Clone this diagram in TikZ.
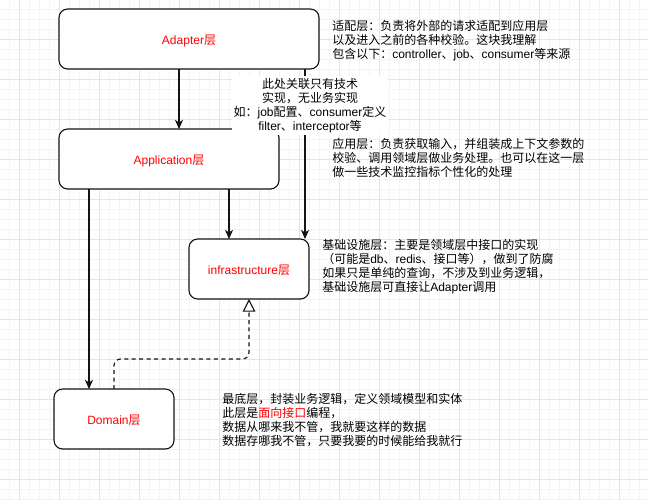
\documentclass[tikz,border=0pt]{standalone}
\usepackage{fontspec}
\setmainfont{Noto Sans CJK SC}
\newfontfamily\lat{Liberation Sans}
\usetikzlibrary{arrows.meta,calc}

\definecolor{gridminor}{RGB}{244,244,244}
\definecolor{gridmajor}{RGB}{229,229,229}
\definecolor{edgeink}{RGB}{20,20,20}
\definecolor{labelred}{RGB}{255,0,0}

\tikzset{
  layer/.style={draw=edgeink, line width=0.85pt, rounded corners=6.5pt, fill=white,
    minimum height=45pt, inner sep=0pt, outer sep=0pt,
    text height=8pt, text depth=0pt,
    text=labelred, font=\fontsize{9}{10.5}\selectfont},
  note/.style={align=left, anchor=north west, inner sep=0pt,
    font=\fontsize{9}{10.5}\selectfont},
  link/.style={draw=edgeink, line width=0.85pt, -{Stealth[length=6.8pt,width=6pt,inset=1.8pt]}},
  realize/.style={draw=edgeink, line width=0.85pt, dash pattern=on 3pt off 2.6pt,
    rounded corners=5pt, -{Triangle[open,length=9.5pt,width=9.5pt,fill=white]}},
}

\begin{document}
\begin{tikzpicture}[x=0.75pt, y=-0.75pt]
  % canvas and background grid
  \useasboundingbox[fill=white] (0,0) rectangle (648,500);
  \foreach \gx in {9,19,...,639} \draw[gridminor, line width=0.6pt] (\gx,0) -- (\gx,500);
  \foreach \gy in {9,19,...,499} \draw[gridminor, line width=0.6pt] (0,\gy) -- (648,\gy);
  \foreach \gx in {19,59,...,619} \draw[gridmajor, line width=0.6pt] (\gx,0) -- (\gx,500);
  \foreach \gy in {39,79,...,479} \draw[gridmajor, line width=0.6pt] (0,\gy) -- (648,\gy);

  % layers
  \node[layer, minimum width=195pt] (adapter) at (189,39) {{\lat Adapter}层};
  \node[layer, minimum width=165pt] (app) at (169,159) {{\lat Application}层};
  \node[layer, minimum width=90pt] (infra) at (249,269) {{\lat infrastructure}层};
  \node[layer, minimum width=90pt] (domain) at (114,419) {{\lat Domain}层};

  % attachment points of the connectors
  \coordinate (a0) at ($(adapter.south)+(-10,0)$);
  \coordinate (a1) at ($(adapter.south)+(116,0)$);
  \coordinate (a2) at ($(infra.north)+(-20,0)$);
  \coordinate (a3) at ($(domain.north)+(-25,0)$);
  \coordinate (bend) at ($(infra.south)+(0,60)$);

  % dependencies between layers
  \draw[link] (a0) -- (a0 |- app.north);
  \draw[link] (a1) -- (a1 |- infra.north);
  \draw[link] (a2 |- app.south) -- (a2);
  \draw[link] (a3 |- app.south) -- (a3);
  \draw[realize] (domain.north) |- (bend) -- (infra.south);

  % label on the technical link
  \node[fill=white, align=center, anchor=north, inner sep=1.5pt,
        font=\fontsize{9}{10.5}\selectfont] (techlabel) at (310,76)
    {此处关联只有技术\\实现，无业务实现\\如：{\lat job}配置、{\lat consumer}定义\\{\lat filter}、{\lat interceptor}等};

  % notes describing each layer
  \node[note] (noteadapter) at (332,20)
    {适配层：负责将外部的请求适配到应用层\\以及进入之前的各种校验。这块我理解\\包含以下：{\lat controller}、{\lat job}、{\lat consumer}等来源};
  \node[note] (noteapp) at (332,138)
    {应用层：负责获取输入，并组装成上下文参数的\\校验、调用领域层做业务处理。也可以在这一层\\做一些技术监控指标个性化的处理};
  \node[note] (noteinfra) at (322,239)
    {基础设施层：主要是领域层中接口的实现\\（可能是{\lat db}、{\lat redis}、接口等），做到了防腐\\如果只是单纯的查询，不涉及到业务逻辑，\\基础设施层可直接让{\lat Adapter}调用};
  \node[note] (notedomain) at (222,393)
    {最底层，封装业务逻辑，定义领域模型和实体\\此层是{\color{labelred}面向接口}编程，\\数据从哪来我不管，我就要这样的数据\\数据存哪我不管，只要我要的时候能给我就行};
\end{tikzpicture}
\end{document}
